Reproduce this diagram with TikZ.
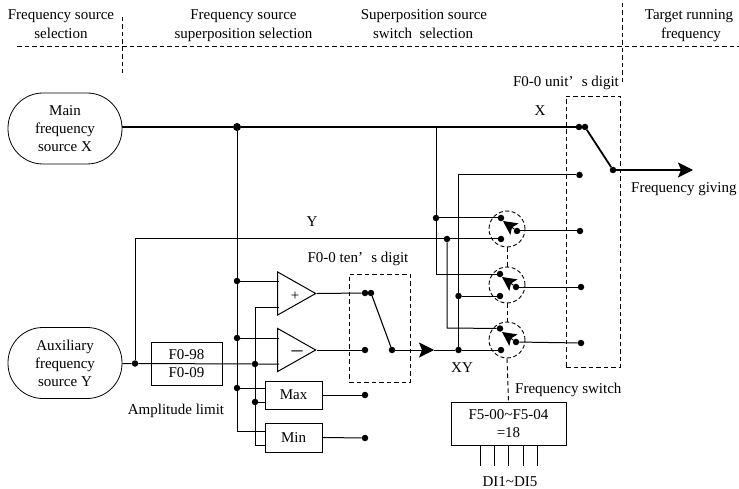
\documentclass[tikz,border=0pt]{standalone}
\usepackage{fontspec}
\setmainfont{Liberation Serif}
\usetikzlibrary{arrows.meta,shapes.geometric}
\tikzset{
  lbl/.style={inner sep=0pt,anchor=base,font=\fontsize{15}{18}\selectfont},
  conn/.style={line width=1pt},
  heavy/.style={line width=1.8pt},
  dotn/.style={circle,fill=black,inner sep=0pt,minimum size=6.5pt},
  bigdot/.style={circle,fill=black,inner sep=0pt,minimum size=8pt},
  termin/.style={draw,line width=0.8pt,rounded corners=35pt,minimum width=114pt,minimum height=71pt,inner sep=0pt,align=center,font=\fontsize{15}{18}\selectfont},
  boxn/.style={draw,line width=1pt,inner sep=0pt,align=center,font=\fontsize{15}{18.5}\selectfont},
  amp/.style={draw,line width=1pt,isosceles triangle,isosceles triangle stretches,shape border rotate=0,minimum width=43pt,minimum height=38pt,inner sep=0pt,anchor=apex},
  dashgroup/.style={draw,line width=0.9pt,dash pattern=on 4.5pt off 3pt},
  dashline/.style={line width=0.9pt,dash pattern=on 4.5pt off 3pt},
  swring/.style={draw,circle,line width=0.9pt,dash pattern=on 4pt off 2.5pt,minimum size=36pt,inner sep=0pt},
  bighead/.style={-{Stealth[length=15pt,width=15pt,inset=3pt]}},
  swhead/.style={-{Stealth[length=14pt,width=14pt,inset=3pt]}}
}
\begin{document}
\begin{tikzpicture}[x=1pt,y=-1pt]
\useasboundingbox (0,0) rectangle (739,489);
% header
\coordinate (hl) at (17,46); \coordinate (hr) at (739,46);
\coordinate (v1a) at (122,17); \coordinate (v1b) at (122,73);
\coordinate (v2a) at (622,3); \coordinate (v2b) at (622,82);
\draw[dashline] (hl) -- (hr);
\draw[dashline] (v1a) -- (v1b);
\draw[dashline] (v2a) -- (v2b);
\node[lbl] (h1a) at (61,20) {Frequency source};
\node[lbl] (h1b) at (61,39) {selection};
\node[lbl] (h2a) at (243.5,20) {Frequency source};
\node[lbl] (h2b) at (243.5,39) {superposition selection};
\node[lbl] (h3a) at (424,20) {Superposition source};
\node[lbl] (h3b) at (423,39) {switch\ \ selection};
\node[lbl] (h4a) at (689,20) {Target running};
\node[lbl] (h4b) at (691,39) {frequency};
% sources
\node[termin] (mainsrc) at (65,128.5) {Main\\frequency\\source X};
\node[termin] (auxsrc) at (65,363) {Auxiliary\\frequency\\source Y};
% blocks
\node[boxn,minimum width=71pt,minimum height=43pt] (lim) at (186.5,363.5) {F0-98\\F0-09};
\node[amp] (plus) at (317,293.5) {};
\node[amp] (minus) at (317,350) {};
\node[boxn,minimum width=57pt,minimum height=28pt] (maxb) at (293.5,395) {Max};
\node[boxn,minimum width=57pt,minimum height=29pt] (minb) at (293.5,437.5) {Min};
\node[boxn,minimum width=115pt,minimum height=43pt] (f5) at (508.5,423.5) {F5-00\textasciitilde F5-04\\=18};
% dashed groups
\node[dashgroup,minimum width=61pt,minimum height=108pt,inner sep=0pt] (tens) at (379.5,328) {};
\node[dashgroup,minimum width=54pt,minimum height=271pt,inner sep=0pt] (units) at (593,231.5) {};
\node[swring] (r1) at (507,229) {};
\node[swring] (r2) at (507,285) {};
\node[swring] (r3) at (507,340) {};
% dots
\node[bigdot] (j0) at (237,127) {};
\node[dotn] (j1) at (237,281) {};
\node[dotn] (j2) at (237,338) {};
\node[dotn] (j3) at (237,388) {};
\coordinate (j4) at (237,431);
\node[dotn] (ya) at (135,363.5) {};
\coordinate (yb) at (135,239);
\node[dotn] (k1) at (255,364) {};
\node[dotn] (k2) at (255,402) {};
\coordinate (k0) at (255,307);
\coordinate (k3) at (255,445);
\coordinate (p1) at (279,281); \coordinate (p2) at (279,307);
\coordinate (m1) at (279,338); \coordinate (m2) at (279,364);
\coordinate (x1) at (265,388); \coordinate (x2) at (265,402);
\coordinate (n1) at (265,431); \coordinate (n2) at (265,445);
\node[dotn] (t1) at (365,293) {};
\node[dotn] (t1b) at (371,293) {};
\node[dotn] (t2) at (365,350) {};
\node[dotn] (t3) at (365,395) {};
\node[dotn] (t4) at (365,438) {};
\node[dotn] (tout) at (392,350) {};
\coordinate (midtip) at (434,350);
\node[dotn] (xy) at (458.5,350) {};
\node[dotn] (v3a) at (458.5,296) {};
\coordinate (v3t) at (458.5,175);
\coordinate (mt) at (436,127);
\node[dotn] (v1d) at (436,218) {};
\coordinate (v1e) at (436,274);
\node[dotn] (v2d) at (447,239) {};
\coordinate (v2e) at (447,328);
\node[dotn] (i1a) at (501,218) {};
\node[dotn] (i1b) at (501,239) {};
\node[dotn] (i2a) at (500,274) {};
\node[dotn] (i2b) at (500,296) {};
\node[dotn] (i3a) at (500,328.5) {};
\node[dotn] (i3b) at (501,350) {};
\node[dotn] (o1) at (517,231) {};
\node[dotn] (o2) at (516,287) {};
\node[dotn] (o3) at (516,342) {};
\coordinate (s1) at (503,221); \coordinate (s2) at (502,277); \coordinate (s3) at (502,332);
\node[dotn] (u1) at (579,127) {};
\node[dotn] (u1b) at (585,127) {};
\node[dotn] (u2) at (579.5,175) {};
\node[dotn] (u3) at (580,231) {};
\node[dotn] (u4) at (581,287) {};
\node[dotn] (u5) at (581,343) {};
\node[dotn] (uout) at (613,170) {};
\coordinate (gv) at (693,170);
% connectors
\draw[heavy] (mainsrc.east |- j0) -- (j0) -- (u1);
\draw[heavy] (u1b) -- (uout);
\draw[heavy,bighead] (uout) -- (gv);
\draw[conn] (j0) -- (j1) -- (j2) -- (j3) -- (j4) -- (n1);
\draw[conn] (j1) -- (p1);
\draw[conn] (j2) -- (m1);
\draw[conn] (j3) -- (x1);
\draw[conn] (auxsrc.east |- ya) -- (ya) -- (k1) -- (m2);
\draw[conn] (ya) -- (yb) -- (v2d) -- (i1b);
\draw[conn] (p2) -- (k0) -- (k1) -- (k2) -- (k3) -- (n2);
\draw[conn] (k2) -- (x2);
\draw[conn] (plus.apex) -- (t1);
\draw[conn] (minus.apex) -- (t2);
\draw[conn] (maxb.east) -- (t3);
\draw[conn] (minb.east) -- (t4);
\draw[line width=1.1pt] (t1b) -- (tout);
\draw[conn,bighead] (tout) -- (midtip);
\draw[conn] (midtip) -- (xy) -- (i3b);
\draw[conn] (mt) -- (v1d) -- (v1e) -- (i2a);
\draw[conn] (v1d) -- (i1a);
\draw[conn] (v2d) -- (v2e) -- (i3a);
\draw[conn] (u2) -- (v3t) -- (v3a) -- (xy);
\draw[conn] (v3a) -- (i2b);
\draw[conn] (o1) -- (u3);
\draw[conn] (o2) -- (u4);
\draw[conn] (o3) -- (u5);
\draw[conn,swhead] (o1) -- (s1);
\draw[conn,swhead] (o2) -- (s2);
\draw[conn,swhead] (o3) -- (s3);
\draw[dashline] (r1.south) -- (r2.north);
\draw[dashline] (r2.south) -- (r3.north);
\draw[dashline] (r3.south) -- (f5.north);
\foreach \i/\x in {1/480,2/494,3/508,4/523,5/537}{
  \coordinate (tk\i a) at (\x,445);
  \coordinate (tk\i b) at (\x,466);
  \draw[conn] (tk\i a) -- (tk\i b);
}
% labels
\node[lbl] (lx) at (540,116) {X};
\node[lbl] (ly) at (312,227) {Y};
\node[lbl] (lunit) at (566,87) {F0-0 unit’\hspace{0.55em}s digit};
\node[lbl] (lten) at (358,262) {F0-0 ten’\hspace{0.55em}s digit};
\node[lbl,anchor=base west] (lgive) at (631,193) {Frequency giving};
\node[lbl] (lplus) at (295,300) {+};
\node[lbl,font=\fontsize{22}{24}\selectfont] (lminus) at (297,356.5) {–};
\node[lbl] (lamp) at (176,414) {Amplitude limit};
\node[lbl] (lxy) at (462,372) {XY};
\node[lbl,anchor=base west] (lswitch) at (515,393) {Frequency switch};
\node[lbl] (ldi) at (510,486) {DI1\textasciitilde DI5};
\end{tikzpicture}
\end{document}
